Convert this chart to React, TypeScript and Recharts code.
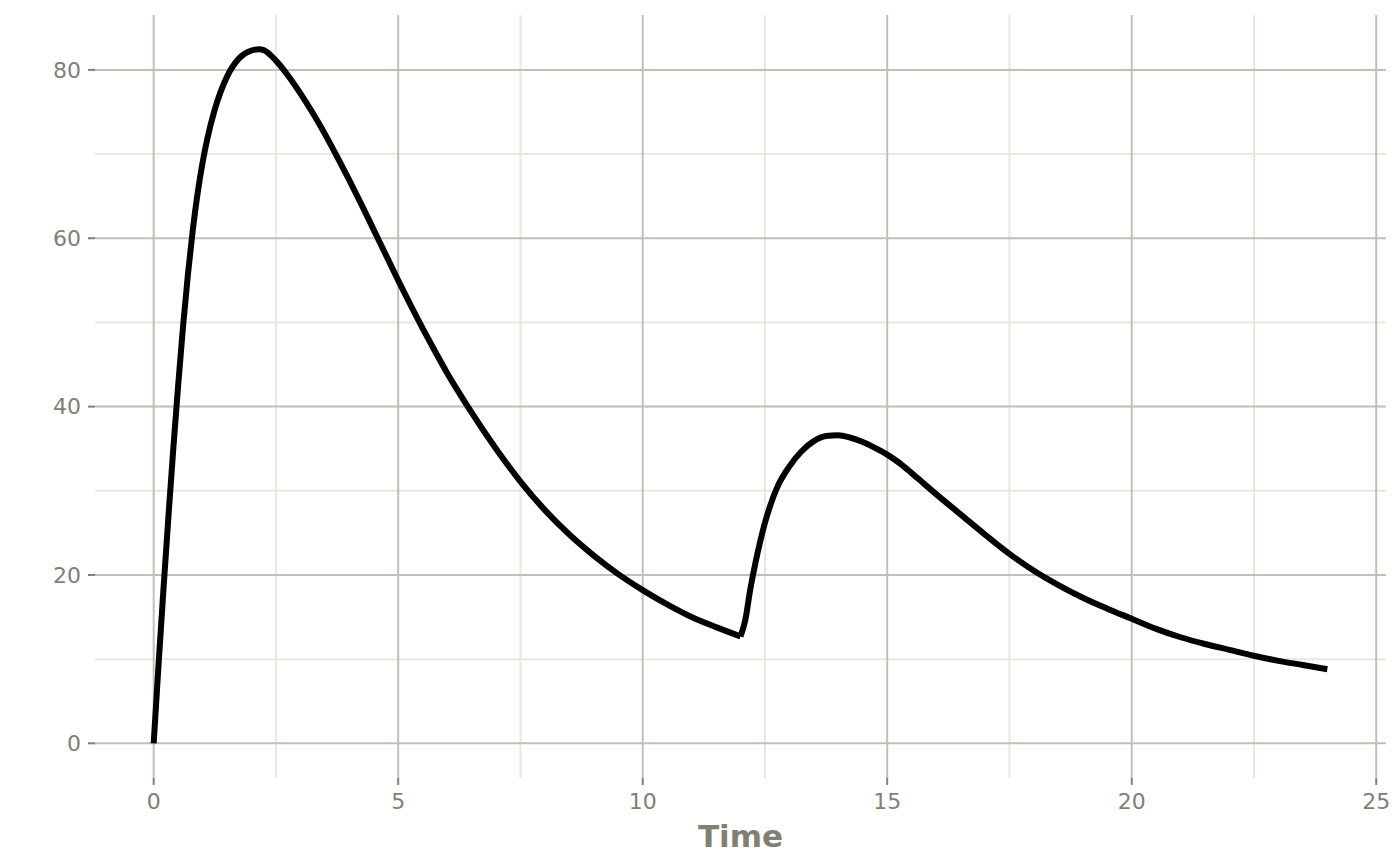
import { CartesianGrid, Line, LineChart, XAxis, YAxis } from "recharts"

// first dose, 0 to 12 h
const firstDoseTime = [
  0, 0.1, 0.2, 0.3, 0.4, 0.5, 0.6, 0.7, 0.8, 0.9, 1, 1.1, 1.25, 1.5, 1.75, 2, 2.15, 2.25, 2.5, 2.75, 3,
  3.25, 3.5, 3.75, 4, 4.25, 4.5, 4.75, 5, 5.25, 5.5, 5.75, 6, 6.25, 6.5, 6.75, 7, 7.5, 8, 8.5, 9, 9.5, 10,
  10.5, 11, 11.5, 12,
]
const firstDoseConc = [
  0, 9.4, 18.3, 26.8, 34.9, 42.5, 49.5, 55.7, 61.0, 65.4, 69.0, 71.9, 75.3, 79.2, 81.4, 82.3, 82.45, 82.35,
  81.1, 79.3, 77.2, 74.9, 72.4, 69.7, 66.9, 64.0, 61.0, 58.0, 55.0, 52.1, 49.3, 46.6, 44.0, 41.6, 39.3,
  37.1, 35.0, 31.1, 27.7, 24.8, 22.3, 20.1, 18.2, 16.5, 15.0, 13.8, 12.7,
]

// second dose, 12 to 24 h
const secondDoseTime = [
  12, 12.1, 12.2, 12.3, 12.4, 12.5, 12.6, 12.75, 13, 13.25, 13.5, 13.75, 14, 14.25, 14.5, 14.75, 15, 15.25,
  15.5, 15.75, 16, 16.5, 17, 17.5, 18, 18.5, 19, 19.5, 20, 20.5, 21, 21.5, 22, 22.5, 23, 23.5, 24,
]
const secondDoseConc = [
  12.7, 14.7, 18.3, 21.3, 23.9, 26.2, 28.1, 30.4, 32.9, 34.7, 35.9, 36.5, 36.6, 36.3, 35.8, 35.1, 34.3,
  33.3, 32.1, 30.85, 29.6, 27.2, 24.8, 22.5, 20.5, 18.8, 17.3, 16.0, 14.8, 13.6, 12.6, 11.8, 11.1, 10.4,
  9.8, 9.3, 8.8,
]

const xTicks = [0, 5, 10, 15, 20, 25]
const xMinorTicks = [2.5, 7.5, 12.5, 17.5, 22.5]
const yTicks = [0, 20, 40, 60, 80]
const yMinorTicks = [10, 30, 50, 70]

const firstDose = firstDoseTime.map((time, i) => ({ time, conc: firstDoseConc[i] }))
const secondDose = secondDoseTime.map((time, i) => ({ time, conc: secondDoseConc[i] }))

const textColor = "#7f7f74"
const tickStyle = { fill: textColor, fontSize: 22, fontFamily: "DejaVu Sans" }

export default function App() {
  return (
    <div style={{ position: "absolute", left: 0, top: 0, background: "#fff" }}>
      <LineChart width={1400} height={865} margin={{ top: 15, right: 14, bottom: 0, left: 0 }}>
        <CartesianGrid
          stroke="#e8e8dc"
          strokeWidth={2}
          horizontalValues={yMinorTicks}
          verticalValues={xMinorTicks}
        />
        <CartesianGrid stroke="#c0c0b5" strokeWidth={2} horizontalValues={yTicks} verticalValues={xTicks} />
        <XAxis
          type="number"
          dataKey="time"
          domain={[-1.2, 25.2]}
          ticks={xTicks}
          height={87}
          axisLine={false}
          tickSize={7}
          tickMargin={8}
          tickLine={{ stroke: textColor, strokeWidth: 2 }}
          tick={tickStyle}
          label={{
            value: "Time",
            position: "insideBottom",
            offset: 18,
            fill: textColor,
            fontSize: 31,
            fontWeight: "bold",
            fontFamily: "DejaVu Sans",
          }}
        />
        <YAxis
          type="number"
          domain={[-4.12, 86.52]}
          ticks={yTicks}
          width={95}
          axisLine={false}
          tickSize={7}
          tickMargin={7}
          tickLine={{ stroke: textColor, strokeWidth: 2 }}
          tick={tickStyle}
        />
        <Line
          data={firstDose}
          dataKey="conc"
          type="monotone"
          stroke="#000"
          strokeWidth={6}
          strokeLinecap="butt"
          strokeLinejoin="round"
          dot={false}
          activeDot={false}
          isAnimationActive={false}
        />
        <Line
          data={secondDose}
          dataKey="conc"
          type="monotone"
          stroke="#000"
          strokeWidth={6}
          strokeLinecap="butt"
          strokeLinejoin="round"
          dot={false}
          activeDot={false}
          isAnimationActive={false}
        />
      </LineChart>
    </div>
  )
}
